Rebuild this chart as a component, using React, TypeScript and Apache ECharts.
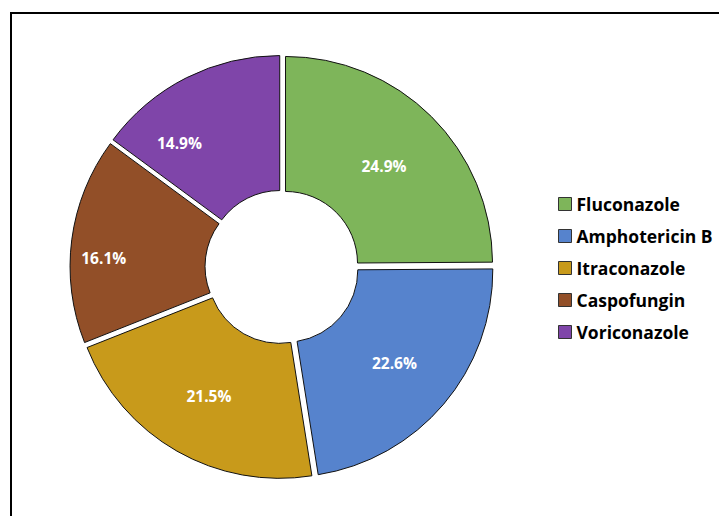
import React, { useEffect, useRef } from "react";
import * as echarts from "echarts";

const categories = ["Fluconazole", "Amphotericin B", "Itraconazole", "Caspofungin", "Voriconazole"];
const values = [24.9, 22.6, 21.5, 16.1, 14.9];
const colors = ["#7EB55A", "#5683CD", "#C89A1B", "#924F28", "#7F45A9"];

export default function App() {
  const ref = useRef<HTMLDivElement>(null);
  useEffect(() => {
    const chart = echarts.init(ref.current!, null, { renderer: "svg" });
    const labelShift: number[][] = [
      [-2, 4],
      [0, 1],
      [0, 1],
      [-32, 10],
      [-36, 8],
    ];
    chart.setOption({
      animation: false,
      backgroundColor: "#ffffff",
      graphic: [
        {
          type: "rect",
          shape: { x: 11, y: 13, width: 800, height: 600 },
          style: { fill: "none", stroke: "#000", lineWidth: 2 },
          silent: true,
        },
      ],
      legend: {
        orient: "vertical",
        left: 553,
        top: 189,
        itemWidth: 13,
        itemHeight: 13,
        itemGap: 12,
        icon: "rect",
        selectedMode: false,
        itemStyle: { borderColor: "#333", borderWidth: 1 },
        textStyle: {
          fontFamily: "Open Sans",
          fontWeight: "bold",
          fontSize: 17.5,
          color: "#000",
          lineHeight: 20,
        },
        data: categories,
      },
      series: [
        {
          type: "pie",
          center: [282, 267],
          radius: [72, 207],
          startAngle: 90,
          clockwise: true,
          selectedMode: "multiple",
          selectedOffset: 5,
          avoidLabelOverlap: false,
          itemStyle: { borderColor: "#111", borderWidth: 1 },
          select: { itemStyle: { borderColor: "#111", borderWidth: 1 } },
          emphasis: { disabled: true },
          labelLine: { show: false },
          label: {
            show: true,
            position: "inside",
            color: "#fff",
            fontFamily: "Open Sans",
            fontWeight: "bold",
            fontSize: 15.5,
            formatter: (p: any) => p.value.toFixed(1) + "%",
          },
          labelLayout: (p: any) => ({
            dx: labelShift[p.dataIndex][0],
            dy: labelShift[p.dataIndex][1],
          }),
          data: categories.map((name, i) => ({
            name,
            value: values[i],
            selected: true,
            itemStyle: { color: colors[i] },
          })),
        },
      ],
    });
    return () => chart.dispose();
  }, []);
  return (
    <div
      ref={ref}
      style={{ position: "absolute", left: 0, top: 0, width: 719, height: 516 }}
    />
  );
}
